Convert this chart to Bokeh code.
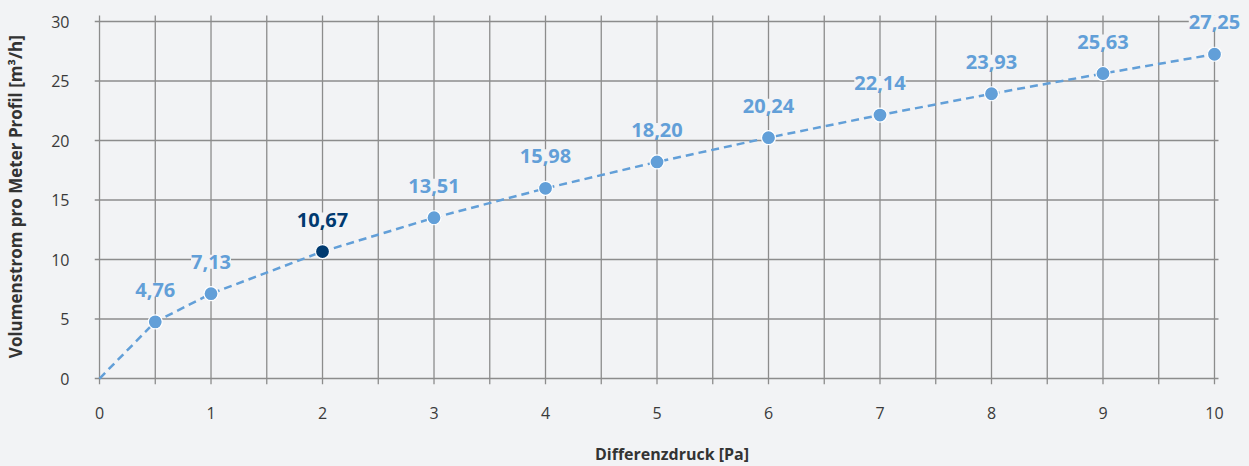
from bokeh.plotting import figure
from bokeh.models import ColumnDataSource, LabelSet, Range1d, FixedTicker
from bokeh.core.properties import value
from bokeh.embed import file_html
from bokeh.resources import INLINE

# data
pressure = [0.5, 1, 2, 3, 4, 5, 6, 7, 8, 9, 10]
flow = [4.76, 7.13, 10.67, 13.51, 15.98, 18.20, 20.24, 22.14, 23.93, 25.63, 27.25]
highlight = [False, False, True, False, False, False, False, False, False, False, False]
x_ticks = [0, 1, 2, 3, 4, 5, 6, 7, 8, 9, 10]
x_grid = [0, 0.5, 1, 1.5, 2, 2.5, 3, 3.5, 4, 4.5, 5, 5.5, 6, 6.5, 7, 7.5, 8, 8.5, 9, 9.5, 10]
y_ticks = [0, 5, 10, 15, 20, 25, 30]

BG = "#f2f3f5"
LIGHT = "#629fd8"
DARK = "#003a70"
GRID = "#8c8c8c"
FONT = "Open Sans"

colors = [DARK if h else LIGHT for h in highlight]
labels = [f"{v:.2f}".replace(".", ",") for v in flow]
src = ColumnDataSource(dict(x=pressure, y=flow, c=colors, t=labels))

X_LEFT, X_GRID_RIGHT = -0.045, 10.036
Y_BOTTOM, Y_GRID_TOP = -0.504, 30.5
p = figure(frame_width=1155, frame_height=380, output_backend="svg", toolbar_location=None,
           x_range=Range1d(X_LEFT, 10.314), y_range=Range1d(Y_BOTTOM, 31.43),
           min_border_left=94, min_border_right=0, min_border_top=4, min_border_bottom=82)
p.background_fill_color = BG
p.border_fill_color = BG
p.outline_line_color = None

# grid lines drawn explicitly so they stop where the reference's stop
p.xgrid.visible = False
p.ygrid.visible = False
p.segment(x0=x_grid, y0=[Y_BOTTOM] * len(x_grid), x1=x_grid, y1=[Y_GRID_TOP] * len(x_grid),
          line_color=GRID, line_width=1.3)
p.segment(x0=[X_LEFT] * len(y_ticks), y0=y_ticks, x1=[X_GRID_RIGHT] * len(y_ticks), y1=y_ticks,
          line_color=GRID, line_width=1.3)

# axes
p.xaxis.ticker = FixedTicker(ticks=x_ticks)
p.yaxis.ticker = FixedTicker(ticks=y_ticks)
for ax in (p.xaxis, p.yaxis):
    ax.axis_line_color = None
    ax.major_tick_line_color = None
    ax.minor_tick_line_color = None
    ax.major_label_text_font = FONT
    ax.major_label_text_font_size = "16px"
    ax.major_label_text_color = "#3a3a3a"
    ax.axis_label_text_font = FONT
    ax.axis_label_text_font_style = "bold"
    ax.axis_label_text_color = "#333333"
p.xaxis.axis_label_text_font_size = "16px"
p.yaxis.axis_label_text_font_size = "17px"
p.xaxis.major_label_standoff = 16
p.yaxis.major_label_standoff = 19
p.xaxis.axis_label = "Differenzdruck [Pa]"
p.yaxis.axis_label = "Volumenstrom  pro Meter Profil [m³/h]"
p.xaxis.axis_label_standoff = 21
p.yaxis.axis_label_standoff = 21

# curve through origin and the measured points
p.line([0] + pressure, [0] + flow, line_color=LIGHT, line_width=2.5, line_dash="8 5")
p.scatter("x", "y", source=src, size=14, fill_color="c", line_color="white", line_width=1.2)

lab_kwargs = dict(x="x", y="y", text="t", source=src, text_color="c",
                  text_font=value(FONT), text_font_size="20px", text_font_style="bold",
                  text_align="center", text_baseline="alphabetic", y_offset=25,
                  background_fill_color=BG)
try:
    labs = LabelSet(padding=5, **lab_kwargs)
except Exception:
    labs = LabelSet(**lab_kwargs)
p.add_layout(labs)

html = file_html(p, INLINE)
html = html.replace("<head>", "<head><style>body{background:%s;}</style>" % BG, 1)
open("out.html", "w").write(html)
